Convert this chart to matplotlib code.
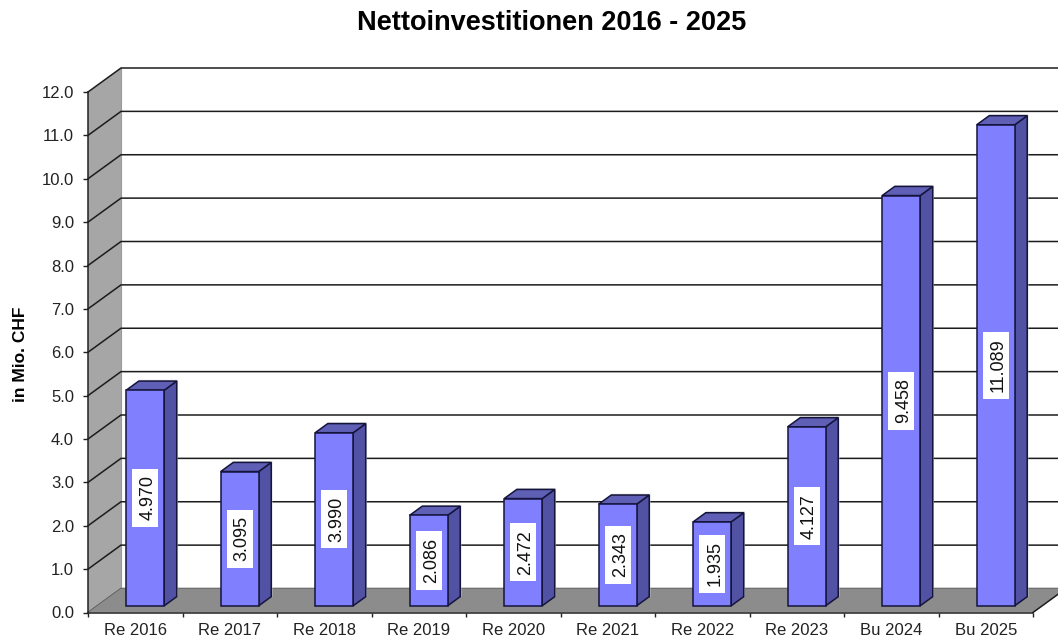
import matplotlib
matplotlib.use("Agg")
import matplotlib.pyplot as plt
from matplotlib.patches import Polygon, Rectangle
import numpy as np

plt.rcParams['font.family'] = ['Liberation Sans', 'DejaVu Sans']

categories = ["Re 2016", "Re 2017", "Re 2018", "Re 2019", "Re 2020",
              "Re 2021", "Re 2022", "Re 2023", "Bu 2024", "Bu 2025"]
values = [4.970, 3.095, 3.990, 2.086, 2.472, 2.343, 1.935, 4.127, 9.458, 11.089]
y_ticks = np.arange(0, 13)
title = "Nettoinvestitionen 2016 - 2025"
y_label = "in Mio. CHF"

W, H = 1058, 638
L, R, T, B = 88, 1033, 92, 612.5
fig = plt.figure(figsize=(W / 100, H / 100), dpi=100, facecolor="white")
ax = fig.add_axes([L / W, 1 - B / H, (R - L) / W, (B - T) / H])
ax.set_xlim(0, len(categories))
ax.set_ylim(0, 12)
ax.patch.set_visible(False)

px_x = len(categories) / (R - L)
px_y = 12 / (B - T)
DX, DY = 33 * px_x, 24 * px_y          # chart depth
EDGE_DARK = "#1c1c1c"
BAR_EDGE = "#14143c"
FACE, SIDE, TOP = "#8080ff", "#5252a4", "#5f5fb6"


def poly(pts, **kw):
    p = Polygon(pts, closed=True, clip_on=False, **kw)
    ax.add_patch(p)
    return p


n = len(categories)
# side wall and floor
poly([(0, 0), (DX, DY), (DX, 12 + DY), (0, 12)], facecolor="#a6a6a6", edgecolor="none", zorder=1)
poly([(0, 0), (DX, DY), (n + DX, DY), (n, 0)], facecolor="#8c8c8c", edgecolor="none", zorder=2)
# gridlines on wall and back
for t in y_ticks:
    ax.plot([0, DX, n + DX], [t, t + DY, t + DY], color=EDGE_DARK if t else "#555555",
            lw=1.1, clip_on=False, zorder=1.5, solid_joinstyle="miter")
ax.plot([n, n + DX], [0, DY], color=EDGE_DARK, lw=1.1, clip_on=False, zorder=3)
ax.plot([DX, DX], [DY, 12 + DY], color="#9a9a9a", lw=0.8, clip_on=False, zorder=1.2)

# bars
half = 19 * px_x
f0, f1 = 0.28, 0.66
fx, fy = DX * f0 + 0.7 * px_x, DY * f0
bx, by = DX * (f1 - f0), DY * (f1 - f0)
sx, sy = 1.3 * px_x, 1.3 * px_y
centers = np.arange(n) + 0.5
renderer = fig.canvas.get_renderer()
for c, v in zip(centers, values):
    x0, x1 = c - half + fx, c + half + fx
    y0, y1 = fy, fy + v
    # soft shadow
    poly([(x1 + bx + sx, y0 + by), (x1 + bx + sx, y1 + by + sy), (x0 + bx, y1 + by + sy), (x1 + bx, y0 + by)],
         facecolor="#c8c8c8", edgecolor="none", zorder=3.5, alpha=0.7)
    poly([(x1, y0), (x1 + bx, y0 + by), (x1 + bx, y1 + by), (x1, y1)],
         facecolor=SIDE, edgecolor=BAR_EDGE, lw=1.1, zorder=4, joinstyle="miter")
    poly([(x0, y1), (x1, y1), (x1 + bx, y1 + by), (x0 + bx, y1 + by)],
         facecolor=TOP, edgecolor=BAR_EDGE, lw=1.1, zorder=4, joinstyle="miter")
    ax.bar(x0, v, bottom=fy, width=x1 - x0, align="edge", color=FACE,
           edgecolor=BAR_EDGE, lw=1.1, zorder=5, clip_on=False)
    xc, yc = (x0 + x1) / 2, fy + v / 2
    txt = ax.text(xc + 2.5 * px_x, yc, f"{v:.3f}", rotation=90, ha="center", va="center",
                  fontsize=13, color="#111111", zorder=7)
    box_h = (txt.get_window_extent(renderer).height + 13) * px_y
    box_w = 26 * px_x
    ax.add_patch(Rectangle((xc - box_w / 2, yc - box_h / 2), box_w, box_h,
                           facecolor="white", edgecolor="none", zorder=6, clip_on=False))

# axes
for s in ("top", "right"):
    ax.spines[s].set_visible(False)
for s in ("left", "bottom"):
    ax.spines[s].set_color("#222222")
    ax.spines[s].set_linewidth(1.1)
    ax.spines[s].set_zorder(3)
ax.set_yticks(y_ticks)
ax.set_yticklabels([f"{t:.1f}" for t in y_ticks], fontsize=12, color="#222222")
ax.tick_params(axis="y", length=3.6, width=1.0, color="#222222", pad=6.5)
ax.set_xticks(np.arange(n + 1))
ax.set_xticklabels([])
ax.tick_params(axis="x", which="major", length=3, width=1.0, color="#222222")
ax.set_xticks(centers, minor=True)
ax.set_xticklabels(categories, minor=True, fontsize=12, color="#222222")
ax.tick_params(axis="x", which="minor", length=0, pad=7.5)

fig.text(552 / W, 1 - 22.5 / H, title, ha="center", va="center", fontsize=19.5,
         fontweight="bold", color="black")
fig.text(20.5 / W, 1 - 354 / H, y_label, rotation=90, ha="center", va="center",
         fontsize=12.5, fontweight="bold", color="black")

fig.savefig("out.png", dpi=100, facecolor="white")
